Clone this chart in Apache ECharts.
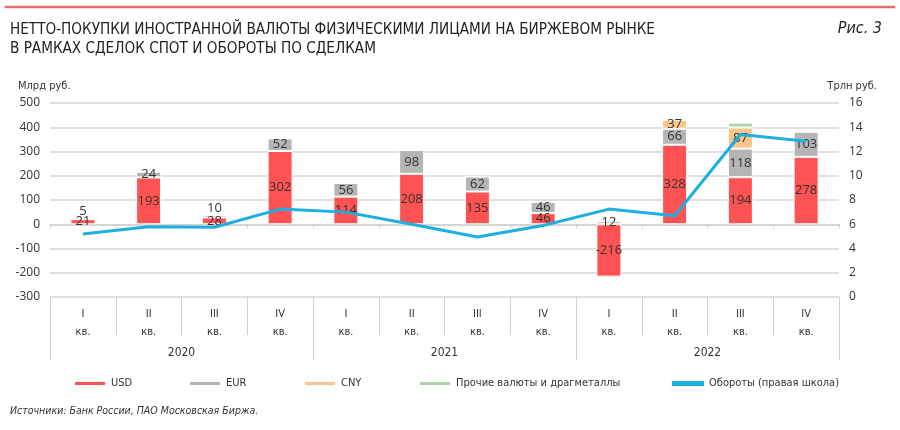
<!DOCTYPE html>
<html>
<head>
<meta charset="utf-8">
<script src="https://cdn.jsdelivr.net/npm/echarts@6/dist/echarts.min.js"></script>
<style>html,body{margin:0;padding:0;background:#fff}#c{width:900px;height:430px}</style>
</head>
<body>
<div id="c"></div>
<script>
// ---- data ----
const quarters = ['I', 'II', 'III', 'IV', 'I', 'II', 'III', 'IV', 'I', 'II', 'III', 'IV'];
const years = ['2020', '2021', '2022'];
const usd = [21, 193, 28, 302, 114, 208, 135, 46, -216, 328, 194, 278];
const eur = [5, 24, 10, 52, 56, 98, 62, 46, 12, 66, 118, 103];
const cny = [0, 0, 0, 0, 0, 0, 0, 0, 8, 37, 87, 3];
const other = [0, 0, 0, 0, 0, 0, 0, 0, 4, 6, 20, 7];
const turnover = [5.2, 5.8, 5.75, 7.25, 7.0, 6.0, 4.95, 5.9, 7.25, 6.7, 13.4, 12.85];
const leftTicks = { min: -300, max: 500, interval: 100 };
const rightTicks = { min: 0, max: 16, interval: 2 };

const NARROW = "'Liberation Sans Narrow','DejaVu Sans Condensed',sans-serif";
const SANS = "'Open Sans',sans-serif";
const C = { usd: '#ff5252', eur: '#b5b5b5', cny: '#f8c68c', other: '#aed3a8', line: '#1cafe0' };

const chart = echarts.init(document.getElementById('c'), null, { renderer: 'canvas' });
const lbl = { color: '#333', fontSize: 13, fontFamily: SANS };

const barBase = {
  type: 'bar', stack: 'total', barWidth: 25, xAxisIndex: 0, yAxisIndex: 0,
  itemStyle: { borderColor: '#fff', borderWidth: 1 }
};

chart.setOption({
  animation: false,
  grid: { left: 50, right: 61, top: 103, bottom: 133 },
  graphic: [
    { type: 'rect', x: 5, y: 6, z: 100, shape: { x: 0, y: 0, width: 890, height: 2 }, style: { fill: '#e07070', stroke: '#e07070', lineWidth: 0.5 } },
    { type: 'text', x: 10, y: 22, scaleX: 0.945, style: { text: 'НЕТТО-ПОКУПКИ ИНОСТРАННОЙ ВАЛЮТЫ ФИЗИЧЕСКИМИ ЛИЦАМИ НА БИРЖЕВОМ РЫНКЕ', font: '16px ' + NARROW, fill: '#222' } },
    { type: 'text', x: 10, y: 41, scaleX: 0.945, style: { text: 'В РАМКАХ СДЕЛОК СПОТ И ОБОРОТЫ ПО СДЕЛКАМ', font: '16px ' + NARROW, fill: '#222' } },
    { type: 'text', right: 18, top: 21, style: { text: 'Рис. 3', font: 'italic 16px ' + NARROW, fill: '#222' } },
    { type: 'text', left: 18, top: 81, style: { text: 'Млрд руб.', font: '11px ' + NARROW, fill: '#333' } },
    { type: 'text', right: 23, top: 81, style: { text: 'Трлн руб.', font: '11px ' + NARROW, fill: '#333' } },
    { type: 'text', left: 10, top: 406, style: { text: 'Источники: Банк России, ПАО Московская Биржа.', font: 'italic 10.5px ' + NARROW, fill: '#333' } }
  ],
  legend: [
    { name: 'USD', left: 73 }, { name: 'EUR', left: 188 }, { name: 'CNY', left: 303 },
    { name: 'Прочие валюты и драгметаллы', left: 418 }, { name: 'Обороты (правая школа)', left: 672 }
  ].map(o => ({
    data: [o.name], left: o.left, top: 378, padding: 0, icon: 'rect', itemWidth: 32, itemHeight: 5, itemGap: 0,
    textStyle: { color: '#333', fontSize: 11, fontFamily: NARROW }
  })),
  xAxis: [
    {
      type: 'category', data: quarters, position: 'bottom',
      axisLine: { onZero: true, onZeroAxisIndex: 0, lineStyle: { color: '#cfcfcf', width: 1.5 } },
      axisTick: { show: true, length: 4, lineStyle: { color: '#cfcfcf' } },
      axisLabel: { show: false }
    },
    {
      type: 'category', data: quarters.map(q => q + '\nкв.'), position: 'bottom',
      axisLine: { show: false, onZero: false },
      axisTick: { show: true, length: 38, lineStyle: { color: '#d0d0d0' } },
      axisLabel: { margin: 8, color: '#333', fontSize: 11, lineHeight: 18, fontFamily: NARROW }
    },
    {
      type: 'category', data: years, position: 'bottom',
      axisLine: { show: false, onZero: false },
      axisTick: { show: true, length: 63, lineStyle: { color: '#d0d0d0' } },
      axisLabel: { margin: 50, color: '#333', fontSize: 12, fontFamily: NARROW }
    }
  ],
  yAxis: [
    {
      type: 'value', min: leftTicks.min, max: leftTicks.max, interval: leftTicks.interval,
      axisLine: { show: false }, axisTick: { show: false },
      axisLabel: { margin: 10, color: '#333', fontSize: 12, fontFamily: SANS },
      splitLine: { lineStyle: { color: '#d6d6d6', width: 1.5 } }
    },
    {
      type: 'value', min: rightTicks.min, max: rightTicks.max, interval: rightTicks.interval, position: 'right',
      axisLine: { show: false }, axisTick: { show: false },
      axisLabel: { margin: 10, color: '#333', fontSize: 12, fontFamily: SANS },
      splitLine: { show: false }
    }
  ],
  series: [
    Object.assign({}, barBase, {
      name: 'USD', itemStyle: Object.assign({}, barBase.itemStyle, { color: C.usd }),
      label: Object.assign({ show: true, position: 'inside' }, lbl),
      data: usd
    }),
    Object.assign({}, barBase, {
      name: 'EUR', itemStyle: Object.assign({}, barBase.itemStyle, { color: C.eur }),
      data: eur.map(v => ({ value: v, label: Object.assign({ show: true, position: v <= 10 ? 'top' : 'inside', distance: 0 }, lbl) }))
    }),
    Object.assign({}, barBase, {
      name: 'CNY', itemStyle: Object.assign({}, barBase.itemStyle, { color: C.cny }),
      data: cny.map(v => ({ value: v, label: Object.assign({ show: v >= 20, position: 'inside' }, lbl) }))
    }),
    Object.assign({}, barBase, {
      name: 'Прочие валюты и драгметаллы', itemStyle: Object.assign({}, barBase.itemStyle, { color: C.other }),
      data: other
    }),
    {
      name: 'Обороты (правая школа)', type: 'line', xAxisIndex: 0, yAxisIndex: 1,
      data: turnover, symbol: 'none', z: 3,
      lineStyle: { color: C.line, width: 3 }, itemStyle: { color: C.line }
    }
  ]
});
</script>
</body>
</html>
